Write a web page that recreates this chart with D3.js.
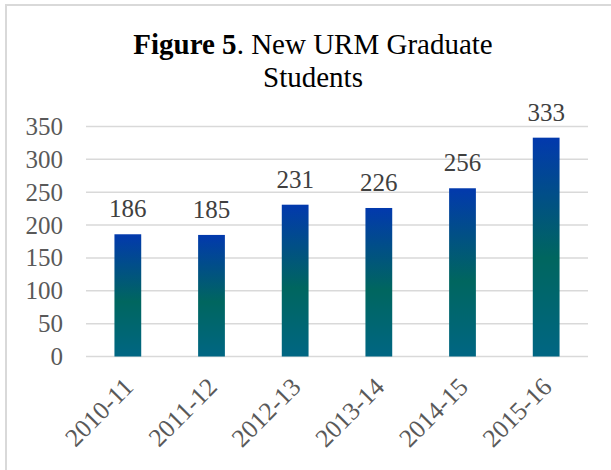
<!DOCTYPE html>
<html>
<head>
<meta charset="utf-8">
<script src="https://cdn.jsdelivr.net/npm/d3@7"></script>
<style>
  body { margin: 0; background: #fff; }
  text { font-family: "Liberation Serif", "Times New Roman", serif; }
</style>
</head>
<body>
<div id="chart"></div>
<script>
// chart data
var years = ["2010-11", "2011-12", "2012-13", "2013-14", "2014-15", "2015-16"];
var students = [186, 185, 231, 226, 256, 333];
var yTicks = [0, 50, 100, 150, 200, 250, 300, 350];

var svgWidth = 611;
var svgHeight = 470;

var margin = { top: 126.5, right: 23, bottom: 113.5, left: 86 };
var width = svgWidth - margin.left - margin.right;
var height = svgHeight - margin.top - margin.bottom;

var svg = d3.select("#chart")
  .append("svg")
  .attr("width", svgWidth)
  .attr("height", svgHeight);

// gradient used on every bar
var defs = svg.append("defs");
var grad = defs.append("linearGradient")
  .attr("id", "barFill")
  .attr("x1", 0).attr("y1", 0)
  .attr("x2", 0).attr("y2", 1);
grad.append("stop").attr("offset", "0%").attr("stop-color", "#0239ad");
grad.append("stop").attr("offset", "55%").attr("stop-color", "#00665f");
grad.append("stop").attr("offset", "100%").attr("stop-color", "#006683");

// outer frame
svg.append("rect")
  .attr("x", 6)
  .attr("y", 5)
  .attr("width", 640)
  .attr("height", 500)
  .attr("fill", "none")
  .attr("stroke", "#d9d9d9")
  .attr("stroke-width", 2);

// title
var title = svg.append("text")
  .attr("x", 313)
  .attr("y", 54)
  .attr("text-anchor", "middle")
  .attr("font-size", 29)
  .attr("fill", "#000");
title.append("tspan").attr("font-weight", "bold").text("Figure 5");
title.append("tspan").text(". New URM Graduate");

svg.append("text")
  .attr("x", 313)
  .attr("y", 87)
  .attr("text-anchor", "middle")
  .attr("font-size", 29)
  .attr("fill", "#000")
  .text("Students");

var chartGroup = svg.append("g")
  .attr("transform", `translate(${margin.left}, ${margin.top})`);

var xBandScale = d3.scaleBand()
  .domain(years)
  .range([0, width])
  .paddingInner(0.68)
  .paddingOuter(0.34);

var yLinearScale = d3.scaleLinear()
  .domain([0, 350])
  .range([height, 0]);

// gridlines
chartGroup.append("g")
  .selectAll("line")
  .data(yTicks)
  .enter()
  .append("line")
  .attr("x1", 0)
  .attr("x2", width)
  .attr("y1", d => yLinearScale(d))
  .attr("y2", d => yLinearScale(d))
  .attr("stroke", "#d9d9d9")
  .attr("stroke-width", 1.5);

// y axis labels
var leftAxis = d3.axisLeft(yLinearScale)
  .tickValues(yTicks)
  .tickSize(0)
  .tickPadding(23);

var yAxis = chartGroup.append("g").call(leftAxis);
yAxis.select(".domain").remove();
yAxis.selectAll("text")
  .attr("font-size", 25)
  .attr("font-family", "Liberation Serif, serif")
  .attr("fill", "#595959");

// x axis labels
var bottomAxis = d3.axisBottom(xBandScale).tickSize(0);
var xAxis = chartGroup.append("g")
  .attr("transform", `translate(0, ${height})`)
  .call(bottomAxis);
xAxis.select(".domain").remove();
xAxis.selectAll("text")
  .attr("font-size", 25.5)
  .attr("font-family", "Liberation Serif, serif")
  .attr("fill", "#595959")
  .attr("text-anchor", "end")
  .attr("dy", 0)
  .attr("y", 0)
  .attr("transform", "translate(7, 32) rotate(-45)");

// bars
chartGroup.selectAll("rect.bar")
  .data(students)
  .enter()
  .append("rect")
  .attr("class", "bar")
  .attr("x", (d, i) => xBandScale(years[i]))
  .attr("y", d => yLinearScale(d))
  .attr("width", xBandScale.bandwidth())
  .attr("height", d => height - yLinearScale(d))
  .attr("fill", "url(#barFill)");

// value labels
chartGroup.selectAll("text.val")
  .data(students)
  .enter()
  .append("text")
  .attr("class", "val")
  .attr("x", (d, i) => xBandScale(years[i]) + xBandScale.bandwidth() / 2)
  .attr("y", d => yLinearScale(d) - 17)
  .attr("text-anchor", "middle")
  .attr("font-size", 25)
  .attr("fill", "#404040")
  .text(d => d);
</script>
</body>
</html>
